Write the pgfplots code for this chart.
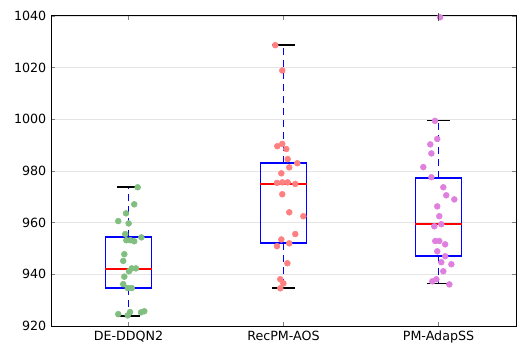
\documentclass[border=0pt]{standalone}
\usepackage{fontspec}
\setmainfont{DejaVu Sans}
\usepackage{pgfplots}
\pgfplotsset{compat=1.18}

\definecolor{ptgreen}{rgb}{0.5,0.75,0.5}
\definecolor{ptred}{rgb}{1,0.5,0.5}
\definecolor{ptmag}{rgb}{0.875,0.5,0.875}

\pgfplotsset{
  boxline/.style={color=blue, line width=1pt, mark=none, solid},
  whisk/.style={color=blue, line width=1.2pt, mark=none, dash pattern=on 5pt off 4pt},
  medline/.style={color=red, line width=1pt, mark=none, solid},
  capline/.style={color=black, line width=0.9pt, mark=none, solid},
  pts/.style={only marks, mark=*, mark size=2.2pt, color=#1, mark options={color=#1, fill=#1}},
}

\begin{document}
\begin{tikzpicture}
\begin{axis}[
  scale only axis, width=348.75pt, height=232.5pt,
  xmin=0.5, xmax=3.5, ymin=920, ymax=1040,
  xtick={1,2,3}, xticklabels={DE-DDQN2,RecPM-AOS,PM-AdapSS},
  ytick={920,940,...,1040},
  tick align=inside, major tick length=3pt,
  tick style={line width=0.6pt},
  axis line style={line width=0.75pt},
  ymajorgrids, grid style={gray!20, line width=0.6pt},
  ticklabel style={font=\fontsize{9.5}{11}\selectfont},
  /pgf/number format/assume math mode=true,
  /pgf/number format/1000 sep={},
]
% DE-DDQN2: lw 923.9, q1 934.7, med 942.1, q3 954.4, uw 973.8
\addplot[whisk] coordinates {(1,954.4)(1,973.8)};
\addplot[whisk] coordinates {(1,934.7)(1,923.9)};
\addplot[boxline] coordinates {(0.85,934.7)(1.15,934.7)(1.15,954.4)(0.85,954.4)(0.85,934.7)};
\addplot[medline] coordinates {(0.85,942.1)(1.15,942.1)};
\addplot[capline] coordinates {(0.925,973.8)(1.075,973.8)};
\addplot[capline] coordinates {(0.925,923.9)(1.075,923.9)};
% RecPM-AOS: lw 934.7, q1 952.1, med 975.0, q3 983.1, uw 1028.8
\addplot[whisk] coordinates {(2,983.1)(2,1028.8)};
\addplot[whisk] coordinates {(2,952.1)(2,934.7)};
\addplot[boxline] coordinates {(1.85,952.1)(2.15,952.1)(2.15,983.1)(1.85,983.1)(1.85,952.1)};
\addplot[medline] coordinates {(1.85,975.0)(2.15,975.0)};
\addplot[capline] coordinates {(1.925,1028.8)(2.075,1028.8)};
\addplot[capline] coordinates {(1.925,934.7)(2.075,934.7)};
% PM-AdapSS: lw 936.3, q1 947.1, med 959.5, q3 977.3, uw 999.4
\addplot[whisk] coordinates {(3,977.3)(3,999.4)};
\addplot[whisk] coordinates {(3,947.1)(3,936.3)};
\addplot[boxline] coordinates {(2.85,947.1)(3.15,947.1)(3.15,977.3)(2.85,977.3)(2.85,947.1)};
\addplot[medline] coordinates {(2.85,959.5)(3.15,959.5)};
\addplot[capline] coordinates {(2.925,999.4)(3.075,999.4)};
\addplot[capline] coordinates {(2.925,936.3)(3.075,936.3)};

% jittered points
\addplot[pts=ptgreen] coordinates {
(1.059,973.7)(1.037,967.1)(0.984,963.6)(0.934,960.6)(1.001,959.7)
(0.979,955.6)(1.083,954.3)(0.986,953.2)(1.012,953.2)(1.037,952.8)
(0.973,947.8)(0.966,945.2)(1.021,942.3)(1.048,942.3)(1.003,941.2)
(0.973,939.1)(0.966,936.2)(0.995,934.7)(1.021,934.7)(1.010,925.4)
(0.934,924.6)(0.995,924.1)(1.081,925.3)(1.102,925.7)
};
\addplot[pts=ptred] coordinates {
(1.947,1028.7)(1.992,1018.9)(1.960,989.6)(1.992,990.5)(2.018,988.5)
(2.027,984.6)(2.089,983.0)(2.037,981.4)(1.986,979.1)(1.958,975.4)
(1.992,975.6)(2.027,975.6)(2.076,975.0)(1.992,971.0)(2.037,964.0)
(2.128,962.5)(2.076,955.6)(1.986,953.5)(2.037,952.0)(1.958,950.9)
(2.025,944.3)(1.979,938.1)(1.999,936.5)(1.979,934.6)
};
\addplot[pts=ptmag] coordinates {
(3.010,1039.5)(2.977,999.4)(2.992,992.4)(2.947,990.3)(2.954,986.8)
(2.902,981.5)(2.954,977.6)(3.031,973.7)(3.050,970.6)(3.102,969.0)
(2.992,966.3)(3.005,962.5)(3.018,959.4)(2.973,958.6)(2.979,952.9)
(3.005,952.9)(3.043,951.6)(2.992,948.9)(3.043,947.0)(3.018,944.7)
(3.083,943.9)(3.031,941.2)(2.986,938.1)(2.960,937.3)(3.070,936.1)
};
% flier
\addplot[only marks, mark=|, mark size=3pt, black!70, line width=0.75pt] coordinates {(3,1039.5)};
\end{axis}
\pgfresetboundingbox
\path (current axis.south west) ++(-38.25pt,-22.5pt) coordinate (bl);
\path (current axis.north east) ++(7.5pt,12pt) coordinate (tr);
\path[use as bounding box] (bl) rectangle (tr);
\end{tikzpicture}
\end{document}
